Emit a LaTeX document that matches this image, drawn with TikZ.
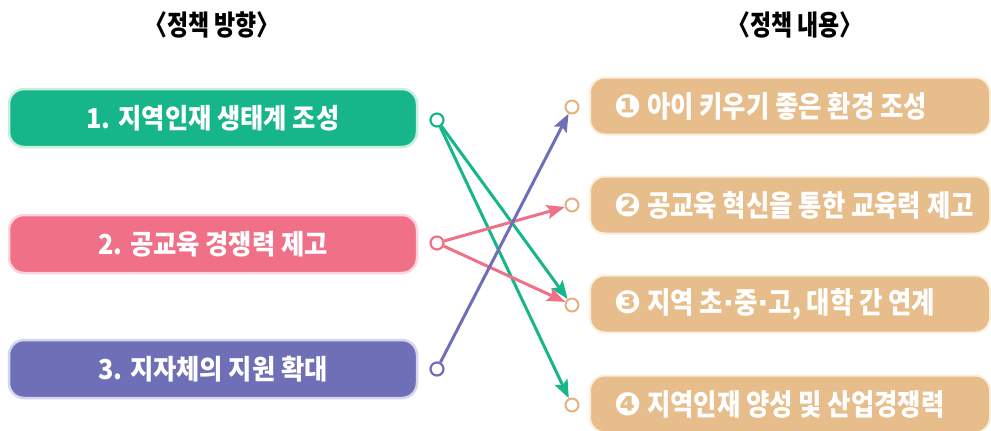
\documentclass[tikz,border=0pt]{standalone}
\usepackage{fontspec}
\usetikzlibrary{arrows.meta}
\newfontfamily\krtitle{Noto Sans CJK KR}[FakeStretch=0.82]
\newfontfamily\krleft{Noto Sans CJK KR}[FakeStretch=0.92]
\newfontfamily\krright{Noto Sans CJK KR}[FakeStretch=0.86]
\newfontfamily\dv{DejaVu Sans}
\newcommand\cnum[1]{{\dv\fontsize{32}{32}\selectfont #1}}
\newcommand\mdot{{\dv\bfseries ·}}
\definecolor{cgreen}{HTML}{17B58A}
\definecolor{cgreenl}{HTML}{C9EEDF}
\definecolor{cpink}{HTML}{F07088}
\definecolor{cpinkl}{HTML}{FBD5DC}
\definecolor{cpurple}{HTML}{6E6FB6}
\definecolor{cpurplel}{HTML}{D5D5F0}
\definecolor{ctan}{HTML}{E6BD8B}
\definecolor{ctanl}{HTML}{FCEEDD}
\definecolor{ctanc}{HTML}{E3B27E}
\tikzset{
  leftbox/.style={draw=#1l, fill=#1, line width=2.5pt, rounded corners=15pt, minimum width=408pt, minimum height=58pt, inner sep=0pt, text=white, font=\krleft\bfseries\fontsize{27.5}{30}\selectfont},
  rightbox/.style={draw=ctanl, fill=ctan, line width=2pt, rounded corners=15pt, minimum width=400pt, minimum height=57pt, inner sep=0pt},
  rtext/.style={anchor=west, text=white, inner sep=0pt, font=\krright\bfseries\fontsize{29.5}{32}\selectfont},
  title/.style={font=\krtitle\bfseries\fontsize{28}{30}\selectfont, text=black, inner sep=0pt},
  lcirc/.style={circle, draw=#1, fill=white, line width=2.2pt, minimum size=13pt, inner sep=0pt},
  rcirc/.style={circle, draw=ctanc, fill=white, line width=2pt, minimum size=13pt, inner sep=0pt},
  conn/.style={draw=#1, line width=3pt, -{Stealth[length=18pt,width=14pt,inset=3.5pt]}}
}
\begin{document}
\begin{tikzpicture}[x=1pt,y=-1pt]
\useasboundingbox (0,0) rectangle (991,431);
\begin{scope}
\clip (0,0) rectangle (991,431);
% titles
\node[title] (t1) at (212,25) {〈정책 방향〉};
\node[title] (t2) at (795,25) {〈정책 내용〉};
% left boxes
\node[leftbox=cgreen] (b1) at (213,118) {1. 지역인재 생태계 조성};
\node[leftbox=cpink] (b2) at (213,244) {2. 공교육 경쟁력 제고};
\node[leftbox=cpurple] (b3) at (213,369) {3. 지자체의 지원 확대};
% right boxes
\node[rightbox] (r1) at (790,106) {};
\node[rightbox] (r2) at (790,205) {};
\node[rightbox] (r3) at (790,304) {};
\node[rightbox] (r4) at (790,404) {};
\node[rtext] (x1) at (614,106) {\cnum{❶} 아이 키우기 좋은 환경 조성};
\node[rtext] (x2) at (614,205) {\cnum{❷} 공교육 혁신을 통한 교육력 제고};
\node[rtext] (x3) at (614,304) {\cnum{❸} 지역 초\mdot 중\mdot 고, 대학 간 연계};
\node[rtext] (x4) at (614,404) {\cnum{❹} 지역인재 양성 및 산업경쟁력};
\end{scope}
% circles
\node[lcirc=cgreen] (c1) at (437,120) {};
\node[lcirc=cpink] (c2) at (437,243) {};
\node[lcirc=cpurple] (c3) at (437,369) {};
\node[rcirc] (d1) at (572,107) {};
\node[rcirc] (d2) at (572,205) {};
\node[rcirc] (d3) at (572,305) {};
\node[rcirc] (d4) at (572,405) {};
% connectors
\draw[conn=cgreen] (c1) -- (d3);
\draw[conn=cgreen] (c1) -- (d4);
\draw[conn=cpink] (c2) -- (d2);
\draw[conn=cpink] (c2) -- (d3);
\draw[conn=cpurple] (c3) -- (d1);
\end{tikzpicture}
\end{document}
